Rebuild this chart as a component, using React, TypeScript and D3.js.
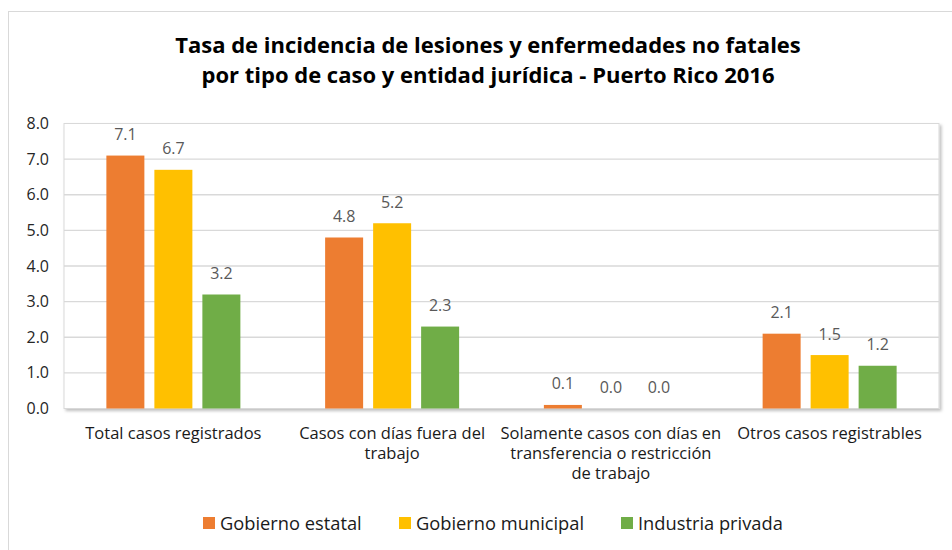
import React from "react";
import * as d3 from "d3";

const categories: string[][] = [
  ["Total casos registrados"],
  ["Casos con días fuera del", "trabajo"],
  ["Solamente casos con días en", "transferencia o restricción", "de trabajo"],
  ["Otros casos registrables"],
];
const seriesNames = ["Gobierno estatal", "Gobierno municipal", "Industria privada"];
const seriesColors = ["#ED7D31", "#FFC000", "#70AD47"];
const estatal = [7.1, 4.8, 0.1, 2.1];
const municipal = [6.7, 5.2, 0.0, 1.5];
const privada = [3.2, 2.3, 0.0, 1.2];
const yTicks = [0, 1, 2, 3, 4, 5, 6, 7, 8];
const titleLines = [
  "Tasa de incidencia de lesiones y enfermedades no fatales",
  "por tipo de caso y entidad jurídica - Puerto Rico 2016",
];

const W = 952;
const H = 550;
const FONT = "'Open Sans', 'Noto Sans', sans-serif";

export default function App() {
  const series = [estatal, municipal, privada];
  const plot = { left: 64, right: 939, top: 123.5, bottom: 408.5 };
  const x0 = d3
    .scaleBand<number>()
    .domain(categories.map((_, i) => i))
    .range([plot.left, plot.right])
    .paddingInner(0)
    .paddingOuter(0);
  const barW = 38;
  const step = 48;
  const x1 = d3.scaleLinear().domain([0, 2]).range([-step, step]);
  const y = d3.scaleLinear().domain([0, 8]).range([plot.bottom, plot.top]);

  return (
    <svg
      width={W}
      height={H}
      style={{ position: "absolute", left: 0, top: 0, background: "#fff" }}
      fontFamily={FONT}
    >
      <defs>
        <filter id="sh" x="-5%" y="-5%" width="110%" height="115%">
          <feDropShadow dx="2" dy="2" stdDeviation="1.5" floodColor="#000" floodOpacity="0.25" />
        </filter>
      </defs>
      <rect x={8.5} y={11.5} width={W + 20} height={H + 20} fill="#fff" stroke="#d9d9d9" />
      {titleLines.map((t, i) => (
        <text
          key={i}
          x={488}
          y={53 + i * 30}
          textAnchor="middle"
          fontSize={22}
          fontWeight="bold"
          fill="#000"
        >
          {t}
        </text>
      ))}
      <rect
        x={plot.left}
        y={plot.top}
        width={plot.right - plot.left}
        height={plot.bottom - plot.top}
        fill="#fff"
        stroke="#d9d9d9"
        filter="url(#sh)"
      />
      {yTicks.map((t) => (
        <g key={t}>
          {t > 0 && t < 8 && (
            <line
              x1={plot.left}
              x2={plot.right}
              y1={y(t)}
              y2={y(t)}
              stroke="#d9d9d9"
              strokeWidth={1.3}
            />
          )}
          <text x={49} y={y(t) + 5.5} textAnchor="end" fontSize={16} fill="#262626">
            {t.toFixed(1)}
          </text>
        </g>
      ))}
      {series.map((vals, si) =>
        vals.map((v, ci) => {
          const cx = (x0(ci) as number) + x0.bandwidth() / 2 + x1(si);
          return (
            <g key={`${si}-${ci}`}>
              <rect
                x={cx - barW / 2}
                y={y(v)}
                width={barW}
                height={y(0) - y(v)}
                fill={seriesColors[si]}
              />
              <text x={cx} y={y(v) - 15.5} textAnchor="middle" fontSize={16} fill="#595959">
                {v.toFixed(1)}
              </text>
            </g>
          );
        })
      )}
      {categories.map((lines, ci) => (
        <text key={ci} textAnchor="middle" fontSize={16.5} fill="#1a1a1a">
          {lines.map((l, li) => (
            <tspan key={li} x={(x0(ci) as number) + x0.bandwidth() / 2} y={439 + li * 20}>
              {l}
            </tspan>
          ))}
        </text>
      ))}
      {seriesNames.map((n, i) => {
        const lx = [203, 399, 621][i];
        return (
          <g key={n}>
            <rect x={lx} y={517} width={12} height={12} fill={seriesColors[i]} />
            <text x={lx + 17} y={530} fontSize={18.3} fill="#1a1a1a">
              {n}
            </text>
          </g>
        );
      })}
    </svg>
  );
}
